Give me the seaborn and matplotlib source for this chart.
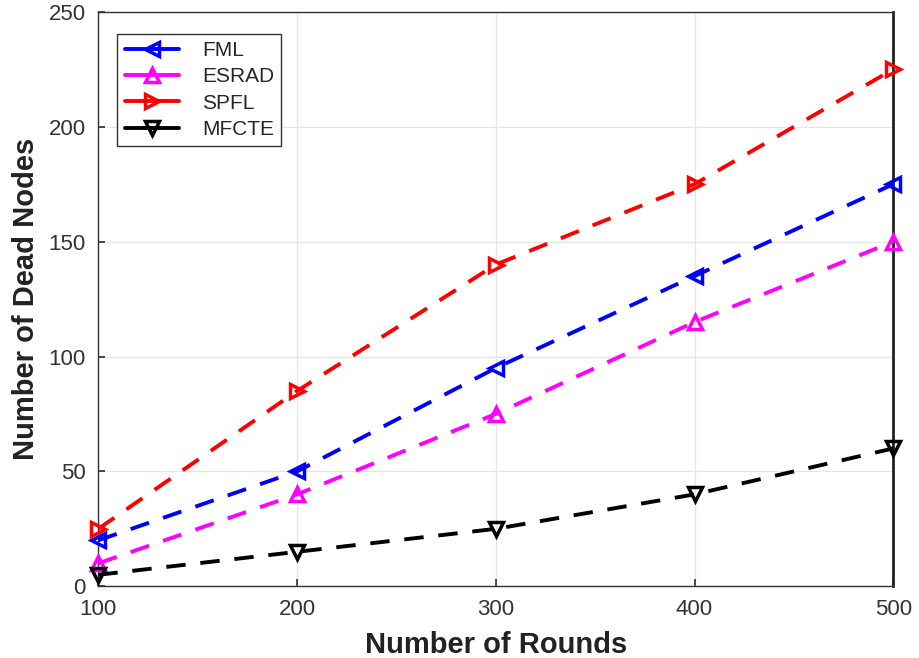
import matplotlib
matplotlib.use("Agg")
import matplotlib.pyplot as plt
import seaborn as sns
import pandas as pd

rounds = [100, 200, 300, 400, 500]
fml = [20, 50, 95, 135, 175]
esrad = [10, 40, 75, 115, 150]
spfl = [25, 85, 140, 175, 225]
mfcte = [5, 15, 25, 40, 60]
series_names = ["FML", "ESRAD", "SPFL", "MFCTE"]
colors = ["#0000ff", "#ff00ff", "#ff0000", "#000000"]
markers = ["<", "^", ">", "v"]

sns.set_theme(style="whitegrid")
plt.rcParams["font.family"] = ["Liberation Sans", "DejaVu Sans"]

fig = plt.figure(figsize=(9.19, 6.58), dpi=100)
ax = fig.add_axes([0.107, 0.109, 0.865, 0.873])

rows = []
for name, vals in zip(series_names, [fml, esrad, spfl, mfcte]):
    for r, v in zip(rounds, vals):
        rows.append({"Rounds": r, "Dead": v, "Method": name})
df = pd.DataFrame(rows)

for name, c, m in zip(series_names, colors, markers):
    sub = df[df["Method"] == name]
    sns.lineplot(data=sub, x="Rounds", y="Dead", ax=ax, color=c, marker=m,
                 markersize=10, markerfacecolor="none", markeredgecolor=c,
                 markeredgewidth=2.5, linewidth=2.8, label=name, zorder=3,
                 clip_on=False)
for line in ax.get_lines():
    line.set_dashes([5, 3.8])

ax.set_xlim(100, 500)
ax.set_ylim(0, 250)
ax.set_xticks([100, 200, 300, 400, 500])
ax.set_yticks([0, 50, 100, 150, 200, 250])
ax.grid(True, color="#e6e6e6", linewidth=1)
for s in ax.spines.values():
    s.set_color("#333333")
    s.set_linewidth(1)
ax.spines["right"].set_linewidth(2)
ax.spines["right"].set_color("#222222")
ax.tick_params(axis="both", direction="in", length=5, color="#333333",
               labelsize=16, labelcolor="#333333", bottom=True, left=True)
ax.tick_params(axis="x", pad=9)
ax.tick_params(axis="y", pad=9)
ax.set_xlabel("Number of Rounds", fontsize=21, fontweight="bold", color="#222222",
              labelpad=8)
ax.set_ylabel("Number of Dead Nodes", fontsize=21, fontweight="bold", color="#222222",
              labelpad=6)

leg = ax.legend(loc="upper left", bbox_to_anchor=(0.024, 0.962), fontsize=15,
                frameon=True, fancybox=False, edgecolor="#333333",
                handlelength=2.6, handletextpad=1.1, borderpad=0.35,
                labelspacing=0.35, borderaxespad=0)
leg.get_frame().set_linewidth(1)
leg.get_frame().set_alpha(1)
for h in leg.get_lines():
    h.set_dashes([])

fig.savefig("out.png", dpi=100)
